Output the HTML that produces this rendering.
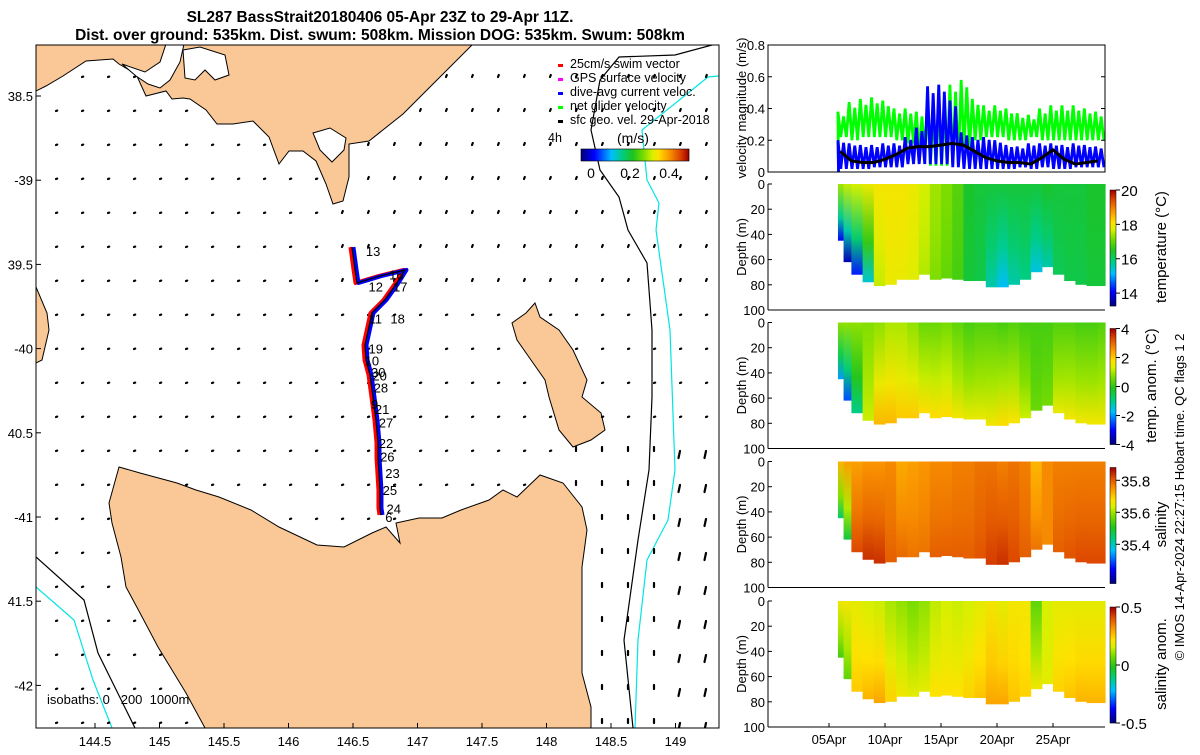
<!DOCTYPE html>
<html><head><meta charset="utf-8">
<style>
html,body{margin:0;padding:0;background:#fff;}
svg text{font-family:"Liberation Sans","DejaVu Sans",sans-serif;}
</style></head>
<body>
<svg id="root" width="1200" height="750" viewBox="0 0 1200 750" xmlns="http://www.w3.org/2000/svg">
<defs>
<clipPath id="mapclip"><rect x="36" y="45" width="683" height="683"/></clipPath>
<clipPath id="velclip"><rect x="768" y="45" width="337" height="127"/></clipPath>
</defs>
<text x="380" y="22" text-anchor="middle" font-size="15.5" font-weight="bold">SL287 BassStrait20180406 05-Apr 23Z to 29-Apr 11Z.</text>
<text x="380" y="40" text-anchor="middle" font-size="15.5" font-weight="bold">Dist. over ground: 535km. Dist. swum: 508km. Mission DOG: 535km. Swum: 508km</text>

<g id="map">
 <g clip-path="url(#mapclip)">
  <path id="vic" fill="#fac896" stroke="#000" stroke-width="1" d="M36,44 L36,91 L46,86 L63,76 L86,61 L113,59 L119,64 L136,74 L146,96 L166,91 L172,99 L183,98 L190,99 L206,110 L217,124 L233,124 L253,121 L269,137 L279,164 L289,151 L303,151 L316,161 L326,184 L333,204 L343,201 L349,177 L349,144 L369,141 L403,114 L473,44 Z"/>
  <path fill="#fff" stroke="#000" stroke-width="1" d="M122,64 L145,72 L160,62 L166,44 L184,44 L180,62 L170,80 L160,88 L148,84 L136,76 Z"/>
  <path fill="#fff" stroke="#000" stroke-width="1" d="M183,50 L200,47 L225,55 L229,75 L215,80 L205,70 L195,80 L185,78 Z"/>
  <path fill="#fff" stroke="#000" stroke-width="1" d="M313,133 L330,128 L346,138 L344,150 L332,162 L320,150 Z"/>
  <path id="tas" fill="#fac896" stroke="#000" stroke-width="1" d="M119,467 L140,473 L177,483 L196,490 L219,497 L251,510 L279,527 L317,545 L344,547 L372,533 L386,527 L400,543 L396,523 L419,518 L442,518 L461,510 L489,500 L503,490 L517,497 L540,475 L563,483 L582,507 L587,530 L582,567 L582,623 L582,673 L591,707 L591,728 L549,728 L205,728 L186,693 L158,647 L140,613 L126,587 L121,557 L112,523 L109,503 Z"/>
  <path id="flin" fill="#fac896" stroke="#000" stroke-width="1" d="M535,303 L540,317 L559,330 L573,350 L587,380 L582,397 L601,413 L605,430 L591,440 L573,447 L559,430 L549,397 L545,380 L531,360 L517,340 L512,323 L526,313 Z"/>
  <path id="king" fill="#fac896" stroke="#000" stroke-width="1" d="M36,287 L47,313 L49,330 L42,360 L36,363 Z"/>
  <path fill="none" stroke="#000" stroke-width="1.2" d="M712,45 L675,55 L619,57 L600,80 L591,130 L600,170 L619,197 L628,230 L647,263 L652,330 L652,397 L649,470 L638,540 L624,640 L633,728"/>
  <path fill="none" stroke="#00e5e5" stroke-width="1.2" d="M730,75 L708,77 L642,130 L647,180 L659,203 L656,230 L670,330 L675,470 L668,520 L647,560 L638,640 L635,728"/>
  <path fill="none" stroke="#000" stroke-width="1.2" d="M36,557 L84,600 L98,653 L135,728"/>
  <path fill="none" stroke="#00e5e5" stroke-width="1.2" d="M36,587 L74,620 L93,680 L112,728"/>
  <g id="arrows"></g>
  <g id="track"></g>
 </g>
 <rect x="36" y="45" width="683" height="683" fill="none" stroke="#000" stroke-width="1"/>
 <g id="mapticks"></g>
 <text x="47" y="704" font-size="13" style="white-space:pre" xml:space="preserve">isobaths: 0   200  1000m</text>
 <g font-size="12.5">
  <rect x="558" y="64" width="5" height="3" fill="#f00"/><text x="570" y="68">25cm/s swim vector</text>
  <rect x="558" y="78" width="5" height="3" fill="#f0f"/><text x="570" y="82">GPS surface velocity</text>
  <rect x="558" y="92" width="5" height="3" fill="#00f"/><text x="570" y="96">dive-avg current veloc.</text>
  <rect x="558" y="106" width="5" height="3" fill="#0f0"/><text x="570" y="110">net glider velocity</text>
  <rect x="558" y="120" width="5" height="3" fill="#000"/><text x="570" y="124">sfc geo. vel. 29-Apr-2018</text>
  <text x="548" y="142">4h</text>
  <text x="617" y="143" font-size="14">(m/s)</text>
 </g>
 <g id="mapcb"></g>
</g>

<g id="right"></g>
<text transform="translate(1184,497) rotate(-90)" text-anchor="middle" font-size="13">© IMOS 14-Apr-2024 22:27:15 Hobart time. QC flags 1  2</text>
</svg>
<script>
// ---- data ----
const trackLon = [146.492,146.516,146.531,146.709,146.903,146.841,146.748,146.647,146.593,146.601,146.632,146.663,146.678,146.694,146.694,146.709,146.709,146.717];
const trackLat = [-39.397,-39.533,-39.610,-39.569,-39.533,-39.610,-39.711,-39.789,-39.979,-40.068,-40.157,-40.335,-40.424,-40.561,-40.650,-40.840,-40.947,-40.988];
const labelTxt = ["13","12","16","17","11","18","19","10","30","20","28","9","21","27","22","26","23","25","24","6"];
const labelLon = [146.60,146.62,146.78,146.81,146.62,146.79,146.62,146.59,146.64,146.65,146.66,146.64,146.67,146.70,146.70,146.71,146.75,146.73,146.76,146.75];
const labelLat = [-39.42,-39.63,-39.56,-39.63,-39.82,-39.82,-40.00,-40.07,-40.14,-40.16,-40.23,-40.33,-40.36,-40.44,-40.56,-40.64,-40.74,-40.84,-40.95,-41.00];
const latTicks = [-38.5,-39,-39.5,-40,-40.5,-41,-41.5,-42];
const latTickLabels = ["38.5","-39","39.5","-40","40.5","-41","41.5","-42"];
const lonTicks = [144.5,145,145.5,146,146.5,147,147.5,148,148.5,149];

const velDays = [6,7,8,9,10,11,12,13,14,15,16,17,18,19,20,21,22,23,24,25,26,27,28,29];
const greenHi = [0.38,0.44,0.46,0.47,0.45,0.40,0.40,0.38,0.40,0.42,0.55,0.58,0.46,0.42,0.42,0.40,0.37,0.36,0.40,0.42,0.42,0.42,0.40,0.38];
const greenLo = [0.22,0.20,0.22,0.22,0.22,0.20,0.18,0.12,0.04,0.04,0.05,0.15,0.20,0.22,0.22,0.20,0.20,0.22,0.20,0.20,0.20,0.20,0.20,0.20];
const blueHi  = [0.20,0.18,0.17,0.17,0.18,0.18,0.22,0.28,0.54,0.55,0.45,0.25,0.22,0.22,0.20,0.17,0.16,0.18,0.18,0.18,0.17,0.18,0.17,0.16];
const blueLo  = [0.02,0.02,0.02,0.03,0.03,0.03,0.05,0.05,0.05,0.05,0.03,0.02,0.02,0.02,0.02,0.02,0.03,0.02,0.03,0.02,0.02,0.03,0.03,0.03];
const geoVel  = [0.13,0.07,0.06,0.06,0.08,0.11,0.15,0.16,0.16,0.17,0.18,0.17,0.13,0.09,0.07,0.06,0.06,0.05,0.09,0.14,0.08,0.05,0.06,0.07];
const velTicks = [0,0.2,0.4,0.6,0.8];
const velTickLabels = ["0","0.2","0.4","0.6","0.8"];
const dateTicks = [5,10,15,20,25];
const dateLabels = ["05Apr","10Apr","15Apr","20Apr","25Apr"];
const depthTicks = [0,20,40,60,80,100];

const secDays = [5.8,6.3,7,8,9,10,11,12,13,14,15,16,17,18,19,20,21,22,23,24,25,26,27,28,29];
const bottomDepth = [45,62,72,78,81,80,76,76,72,76,75,76,77,77,82,82,80,76,70,66,72,77,80,81,81];
const tempTop = [17.4,17.6,17.7,17.9,18.0,18.0,18.0,17.9,17.7,17.4,17.2,16.9,16.4,16.3,16.3,16.3,16.3,16.3,16.3,16.4,16.3,16.3,16.3,16.4,16.4];
const tempBot = [14.0,13.6,14.2,15.4,17.6,17.9,17.9,17.8,17.5,17.2,17.0,16.8,16.3,16.2,15.6,15.2,15.6,15.8,15.3,15.6,16.1,16.2,16.2,16.3,16.3];
const anomTop = [0.8,0.8,0.8,0.7,0.8,1.0,1.0,0.8,0.5,0.5,0.6,0.4,0.2,0.3,0.3,0.2,0.3,0.2,0.2,0.2,0.3,0.3,0.2,0.2,0.3];
const anomBot = [-2.0,-2.5,-1.0,1.2,2.2,2.2,2.0,2.0,1.8,1.8,1.8,1.6,1.5,1.5,1.6,1.8,1.7,1.2,0.5,0.6,1.5,1.6,1.6,1.6,1.6];
const salTop = [35.72,35.74,35.74,35.75,35.75,35.76,35.73,35.74,35.75,35.76,35.76,35.77,35.77,35.78,35.78,35.77,35.78,35.77,35.72,35.76,35.77,35.77,35.77,35.77,35.77];
const salBot = [35.45,35.48,35.82,35.84,35.84,35.80,35.79,35.78,35.78,35.80,35.80,35.80,35.80,35.81,35.83,35.84,35.82,35.80,35.78,35.76,35.80,35.81,35.82,35.82,35.82];
const saTop = [0.20,0.20,0.18,0.16,0.15,0.12,0.10,0.08,0.10,0.14,0.16,0.15,0.16,0.18,0.20,0.18,0.20,0.20,0.05,0.16,0.18,0.18,0.18,0.18,0.18];
const saBot = [0.02,0.05,0.25,0.28,0.30,0.24,0.20,0.18,0.18,0.22,0.22,0.22,0.24,0.26,0.30,0.30,0.26,0.24,0.20,0.18,0.24,0.26,0.28,0.28,0.28];

// ---- helpers ----
const NS="http://www.w3.org/2000/svg";
function mk(tag,attrs,parent){const e=document.createElementNS(NS,tag);for(const k in attrs)e.setAttribute(k,attrs[k]);if(parent)parent.appendChild(e);return e;}
const lonX = lon => 95 + (lon-144.5)*129;
const latY = lat => 96 + (-38.5-lat)*168.4;
const CM=[[0,[0,0,127]],[0.12,[0,0,255]],[0.28,[0,190,255]],[0.38,[0,205,130]],[0.48,[30,195,30]],[0.58,[120,220,0]],[0.66,[215,240,0]],[0.72,[255,225,0]],[0.82,[250,150,0]],[0.92,[220,70,0]],[1,[160,0,0]]];
function jet(t){t=Math.max(0,Math.min(1,t));
 for(let i=1;i<CM.length;i++){if(t<=CM[i][0]){const a=CM[i-1],b=CM[i];const f=(t-a[0])/(b[0]-a[0]);
  const c=a[1].map((v,k)=>Math.round(v+(b[1][k]-v)*f));return `rgb(${c[0]},${c[1]},${c[2]})`;}}
 return 'rgb(160,0,0)';}

// ---- map axes ----
const mt=document.getElementById('mapticks');
latTicks.forEach((v,i)=>{const y=latY(v);
 const l=mk('line',{x1:36,x2:41,y1:y,y2:y,stroke:'#000'},mt);
 
 
 const t=mk('text',{x:33,y:y+5,'text-anchor':'end','font-size':13},mt);t.textContent=latTickLabels[i];
 
 });
lonTicks.forEach(v=>{const x=lonX(v);
 const l=mk('line',{x1:x,x2:x,y1:728,y2:723,stroke:'#000'},mt);
 
 
 const t=mk('text',{x:x,y:746,'text-anchor':'middle','font-size':13},mt);t.textContent=String(v);
 
 });

// ---- arrows ----
const ag=document.getElementById('arrows');
const lands=['vic','tas','flin','king'].map(id=>document.getElementById(id));
function onLand(x,y){const p=new DOMPoint(x,y);return lands.some(l=>{try{return l.isPointInFill(p);}catch(e){return false;}});}
for(let y=77;y<=725;y+=34){for(let x=56;x<=712;x+=26){
 if(onLand(x,y))continue;
 let dx=1.2,dy=-0.4;
 if(x>330 && y<300){dx=0.8;dy=-2;}
 if(x>575 && y>420){dx=0;dy=-4;}
 if(x>660 && y>420){dx=-1.5;dy=7;}
 const a=mk('line',{x1:x,y1:y,x2:x+dx,y2:y+dy,stroke:'#000','stroke-width':2.2,'stroke-linecap':'round'},ag);
 
 
}}

// ---- track ----
const tg=document.getElementById('track');
const pts=trackLon.map((lon,i)=>`${lonX(lon)},${latY(trackLat[i])}`).join(' ');
const r1=mk('polyline',{points:pts,fill:'none',stroke:'#f00','stroke-width':4,'stroke-linejoin':'round',transform:'translate(-1.5,0)'},tg);


const b1=mk('polyline',{points:pts,fill:'none',stroke:'#00f','stroke-width':4,'stroke-linejoin':'round',transform:'translate(1.5,0)'},tg);


const k1=mk('polyline',{points:pts,fill:'none',stroke:'#000','stroke-width':1.2},tg);


labelTxt.forEach((s,i)=>{const t=mk('text',{x:lonX(labelLon[i]),y:latY(labelLat[i])+5,'font-size':13},tg);t.textContent=s;
 
 });

// ---- map colorbar ----
const mc=document.getElementById('mapcb');
for(let i=0;i<108;i++){mk('rect',{x:581+i,y:149,width:1.2,height:12,fill:jet(i/107)},mc);}
mk('rect',{x:581,y:149,width:108,height:12,fill:'none',stroke:'#000','stroke-width':0.6},mc);
[[0,'0'],[0.2,'0.2'],[0.4,'0.4']].forEach(([v,s])=>{const x=591+v/0.2*39;const t=mk('text',{x:x,y:178,'text-anchor':'middle','font-size':14},mc);t.textContent=s;
 
 });

// ---- right panels ----
const R=document.getElementById('right');
const dayX = d => 829 + (d-5)*11.2;
const X0=768, X1=1105;
const vy = v => 172 - v/0.8*127;
const vg=mk('g',{},R);


const vc=mk('g',{'clip-path':'url(#velclip)'},vg);
function zig(hi,lo){const p=[];velDays.forEach((d,i)=>{const dd=d-0.2;p.push([dayX(dd),vy(hi[i])],[dayX(dd+0.25),vy(lo[i])],[dayX(dd+0.5),vy(hi[i]*0.92)],[dayX(dd+0.75),vy(lo[i])]);});return p.map(q=>q.join(',')).join(' ');}
const gl=mk('polyline',{points:`${dayX(5.85)},${vy(0)} `+zig(greenHi,greenLo),fill:'none',stroke:'#00ff00','stroke-width':2.8},vc);


const bl=mk('polyline',{points:`${dayX(5.85)},${vy(0)} `+zig(blueHi,blueLo),fill:'none',stroke:'#0000ff','stroke-width':2.8},vc);


const kl=mk('polyline',{points:velDays.map((d,i)=>`${dayX(d)},${vy(geoVel[i])}`).join(' '),fill:'none',stroke:'#000','stroke-width':3,'stroke-linejoin':'round'},vc);


mk('rect',{x:X0,y:45,width:X1-X0,height:127,fill:'none',stroke:'#000'},vg);
velTicks.forEach((v,i)=>{const y=vy(v);mk('line',{x1:X0,x2:X0+4,y1:y,y2:y,stroke:'#000'},vg);mk('line',{x1:X1,x2:X1-4,y1:y,y2:y,stroke:'#000'},vg);
 const t=mk('text',{x:765,y:y+5,'text-anchor':'end','font-size':13},vg);t.textContent=velTickLabels[i];
 
 });
const vl=mk('text',{transform:'translate(746,108) rotate(-90)','text-anchor':'middle','font-size':13},vg);vl.textContent='velocity magnitude (m/s)';



const panels=[
 {top:184,name:'temperature-section',top_:tempTop,bot:tempBot,min:13.25,max:20,ticks:[20,18,16,14],tl:['20','18','16','14'],label:'temperature (°C)',lx:1166},
 {top:322.5,name:'temperature-anomaly-section',top_:anomTop,bot:anomBot,min:-4,max:4,ticks:[4,2,0,-2,-4],tl:['4','2','0','-2','-4'],label:'temp. anom. (°C)',lx:1156},
 {top:461.5,name:'salinity-section',top_:salTop,bot:salBot,min:35.155,max:35.88,ticks:[35.8,35.6,35.4],tl:['35.8','35.6','35.4'],label:'salinity',lx:1166},
 {top:601,name:'salinity-anomaly-section',top_:saTop,bot:saBot,min:-0.5,max:0.5,ticks:[0.5,0,-0.5],tl:['0.5','0','-0.5'],label:'salinity anom.',lx:1166}
];
const defs=document.querySelector('defs');
panels.forEach((P,pi)=>{
 const g=mk('g',{},R);
 
 
 const H=126, dy=d=>P.top+d/100*H;
 const t2=v=>(v-P.min)/(P.max-P.min);
 secDays.forEach((d,i)=>{
  const x0=dayX(d), x1=i<secDays.length-1?dayX(secDays[i+1]):X1;
  const gid=`g${pi}_${i}`;
  const lg=mk('linearGradient',{id:gid,x1:0,y1:0,x2:0,y2:1},defs);
  mk('stop',{offset:'0','stop-color':jet(t2(P.top_[i]))},lg);
  mk('stop',{offset:'0.6','stop-color':jet(t2(P.top_[i]*0.5+P.bot[i]*0.5))},lg);
  mk('stop',{offset:'1','stop-color':jet(t2(P.bot[i]))},lg);
  const c=mk('rect',{x:x0,y:dy(0),width:Math.min(x1,X1)-x0+0.6,height:bottomDepth[i]/100*H,fill:`url(#${gid})`},g);
  
  
 });
 mk('line',{x1:X0,x2:X0,y1:P.top,y2:P.top+H,stroke:'#000'},g);
 mk('line',{x1:X0,x2:X1,y1:P.top+H,y2:P.top+H,stroke:'#000'},g);
 depthTicks.forEach(v=>{const y=dy(v);mk('line',{x1:X0,x2:X0+4,y1:y,y2:y,stroke:'#000'},g);
  const t=mk('text',{x:765,y:y+5,'text-anchor':'end','font-size':13},g);t.textContent=String(v);
  
  });
 const dl=mk('text',{transform:`translate(746,${P.top+63}) rotate(-90)`,'text-anchor':'middle','font-size':13},g);dl.textContent='Depth (m)';
 
 
 const cb0=P.top+6;
 for(let k=0;k<116;k++){mk('rect',{x:1110,y:cb0+k,width:6,height:1.2,fill:jet(1-k/115)},g);}
 mk('rect',{x:1110,y:cb0,width:6,height:116,fill:'none',stroke:'#000','stroke-width':0.5},g);
 P.ticks.forEach((v,i)=>{const y=cb0+(P.max-v)/(P.max-P.min)*116;
  mk('line',{x1:1116,x2:1120,y1:y,y2:y,stroke:'#000'},g);
  const t=mk('text',{x:1121,y:y+6,'font-size':15},g);t.textContent=P.tl[i];
  
  });
 const cl=mk('text',{transform:`translate(${P.lx},${P.top+63}) rotate(-90)`,'text-anchor':'middle','font-size':15},g);cl.textContent=P.label;
 
 
 if(pi===3){dateTicks.forEach((d,i)=>{const x=dayX(d);mk('line',{x1:x,x2:x,y1:P.top+H,y2:P.top+H-4,stroke:'#000'},g);
  const t=mk('text',{x:x,y:P.top+H+17,'text-anchor':'middle','font-size':13},g);t.textContent=dateLabels[i];
  
  });}
});
</script>
</body></html>
